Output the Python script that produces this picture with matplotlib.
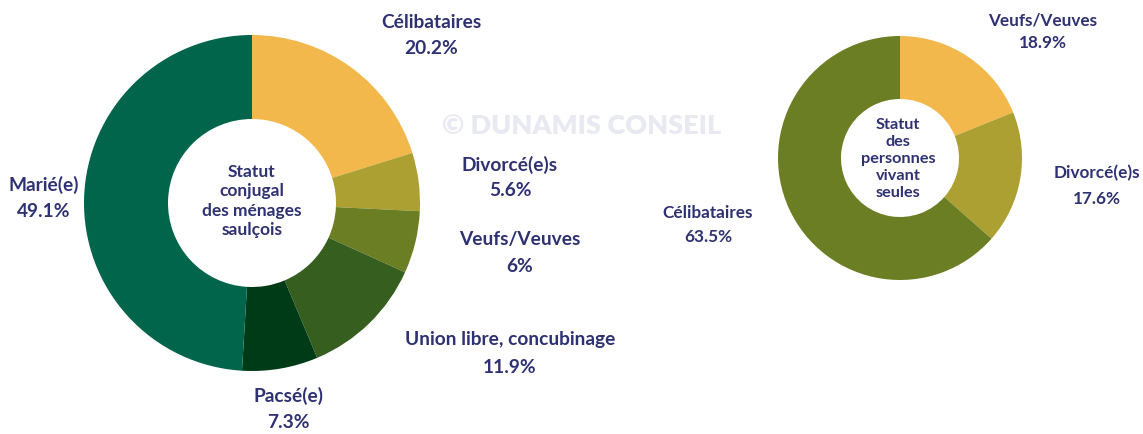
import matplotlib
matplotlib.use("Agg")
import matplotlib.pyplot as plt

# Data
left_labels = ["Célibataires", "Divorcé(e)s", "Veufs/Veuves", "Union libre, concubinage", "Pacsé(e)", "Marié(e)"]
left_values = [20.2, 5.6, 6.0, 11.9, 7.3, 49.1]
left_pct = ["20.2%", "5.6%", "6%", "11.9%", "7.3%", "49.1%"]
left_colors = ["#F2B84B", "#ACA033", "#6C7E23", "#365E1E", "#003B18", "#00654A"]

right_labels = ["Veufs/Veuves", "Divorcé(e)s", "Célibataires"]
right_values = [18.9, 17.6, 63.5]
right_pct = ["18.9%", "17.6%", "63.5%"]
right_colors = ["#F2B84B", "#ACA033", "#6C7E23"]

TXT = "#2E3172"
FONT = ["Lato", "DejaVu Sans"]
W, H = 1143, 435

fig = plt.figure(figsize=(W / 100, H / 100), dpi=100)
ax = fig.add_axes([0, 0, 1, 1])

def py(y):
    return H - y

# Watermark
ax.text(582, py(126), "© DUNAMIS CONSEIL", ha="center", va="center", fontsize=19.5,
        fontweight="heavy", color="#E9E9F2", family=FONT, zorder=0)

# Left donut
ax.pie(left_values, colors=left_colors, startangle=90, counterclock=False,
       center=(252, py(204)), radius=168, wedgeprops=dict(width=84, linewidth=0),
       frame=True)
# Right donut
ax.pie(right_values, colors=right_colors, startangle=90, counterclock=False,
       center=(900, py(159)), radius=122, wedgeprops=dict(width=63, linewidth=0),
       frame=True)
ax.set_xlim(0, W)
ax.set_ylim(0, H)
ax.set_aspect("equal")
ax.axis("off")

# Center texts
ax.text(252, py(201), "Statut\nconjugal\ndes ménages\nsaulçois", ha="center", va="center",
        fontsize=12.5, fontweight="bold", color=TXT, family=FONT, linespacing=1.27)
ax.text(898, py(159), "Statut\ndes\npersonnes\nvivant\nseules", ha="center", va="center",
        fontsize=11.7, fontweight="bold", color=TXT, family=FONT, linespacing=1.27)

# Left labels positions (label center, pct center)
left_pos = [(431, 22, 49), (510, 165, 191), (520, 240, 266), (510, 340, 368),
            (288, 396, 423), (44, 185, 212)]
for lab, pct, (x, y1, y2) in zip(left_labels, left_pct, left_pos):
    ax.text(x, py(y1), lab, ha="center", va="center", fontsize=13.8, fontweight="bold",
            color=TXT, family=FONT)
    ax.text(x, py(y2), pct, ha="center", va="center", fontsize=13.8, fontweight="bold",
            color=TXT, family=FONT)

right_pos = [(1043, 20, 43), (1097, 173, 199), (708, 213, 237)]
for lab, pct, (x, y1, y2) in zip(right_labels, right_pct, right_pos):
    ax.text(x, py(y1), lab, ha="center", va="center", fontsize=12.3, fontweight="bold",
            color=TXT, family=FONT)
    ax.text(x, py(y2), pct, ha="center", va="center", fontsize=12.3, fontweight="bold",
            color=TXT, family=FONT)

fig.savefig("out.png", dpi=100, facecolor="white")
